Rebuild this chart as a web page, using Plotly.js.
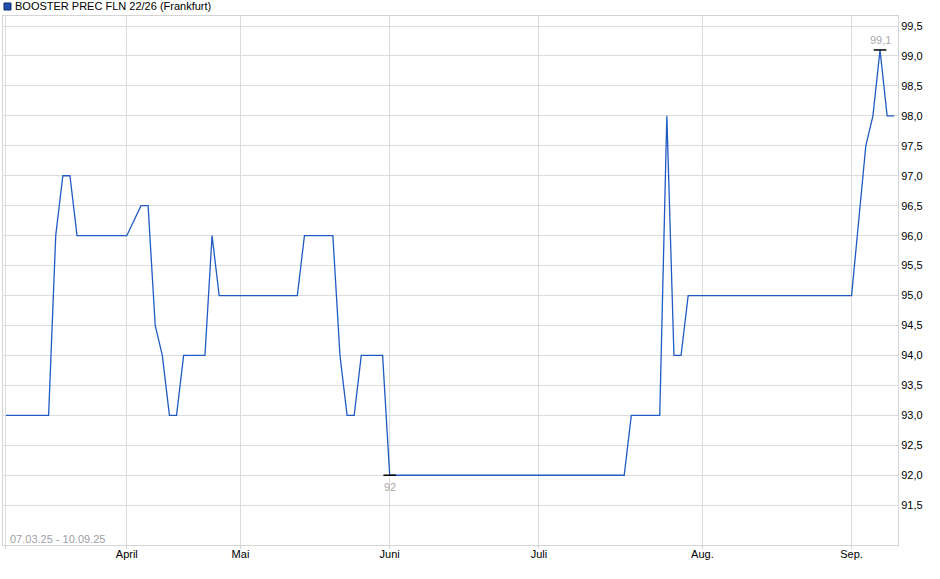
<!DOCTYPE html>
<html>
<head>
<meta charset="utf-8">
<script src="https://cdn.plot.ly/plotly-3.0.1.min.js"></script>
<style>
  html, body { margin: 0; padding: 0; background: #fff; }
  #chart { width: 940px; height: 579px; }
</style>
</head>
<body>
<div id="chart"></div>
<script>
// trading-day index of each turning point (07.03.25 = 0 ... 10.09.25 = 125)
const dayIdx = [0, 6, 7, 8, 9, 10, 17, 19, 20, 21, 22, 23, 24, 25, 28, 29, 30,
  41, 42, 46, 47, 48, 49, 50, 53, 54, 87, 88, 92, 93, 94, 95, 96,
  119, 121, 122, 123, 124, 125];
const price = [93, 93, 96, 97, 97, 96, 96, 96.5, 96.5, 94.5, 94, 93, 93, 94, 94, 96, 95,
  95, 96, 96, 94, 93, 93, 94, 94, 92, 92, 93, 93, 98, 94, 94, 95,
  95, 97.5, 98, 99.1, 98, 98];

const monthIdx = [0, 17, 33, 54, 75, 98, 119];
const monthText = ['', 'April', 'Mai', 'Juni', 'Juli', 'Aug.', 'Sep.'];
const yTicks = [91.5, 92, 92.5, 93, 93.5, 94, 94.5, 95, 95.5, 96, 96.5, 97, 97.5, 98, 98.5, 99, 99.5];

const seriesName = 'BOOSTER PREC FLN 22/26 (Frankfurt)';
const periodText = '07.03.25 - 10.09.25';

const font = 'Liberation Sans, Arial, sans-serif';
const gridColor = '#dcdcdc';

// lowest and highest point get a small black marker and a label
var minI = price.indexOf(Math.min(...price));
var maxI = price.indexOf(Math.max(...price));
function fmt(v) { return String(v).replace('.', ','); }

var trace1 = {
  x: dayIdx,
  y: price,
  mode: 'lines',
  line: { color: '#1f5bc2', width: 1.3 },
  name: seriesName,
  hoverinfo: 'y'
};

var extremes = {
  x: [dayIdx[minI], dayIdx[maxI]],
  y: [price[minI], price[maxI]],
  mode: 'markers',
  marker: { symbol: 'line-ew', size: 9, line: { color: '#000', width: 1.5 } },
  hoverinfo: 'skip'
};

var layout = {
  width: 940,
  height: 579,
  margin: { l: 3, r: 42, t: 16, b: 34, pad: 0 },
  paper_bgcolor: '#fff',
  plot_bgcolor: '#fff',
  separators: ',.',
  showlegend: false,
  font: { family: font, size: 11, color: '#000' },
  title: {
    text: seriesName,
    font: { family: font, size: 11, color: '#000' },
    x: 15 / 940, xanchor: 'left',
    y: 1 - 6.5 / 579, yanchor: 'middle'
  },
  xaxis: {
    range: [-0.42, 125.53],
    tickmode: 'array',
    tickvals: monthIdx,
    ticktext: monthText,
    showgrid: true,
    gridcolor: gridColor,
    zeroline: false,
    showline: true,
    linecolor: '#d4d4d4',
    mirror: true,
    ticks: 'outside',
    ticklen: 3,
    tickcolor: '#d4d4d4',
    ticklabelstandoff: -4,
    tickfont: { family: font, size: 11, color: '#000' }
  },
  yaxis: {
    side: 'right',
    range: [90.836, 99.667],
    tickmode: 'array',
    tickvals: yTicks,
    tickformat: '.1f',
    showgrid: true,
    gridcolor: gridColor,
    zeroline: false,
    showline: true,
    linecolor: '#d4d4d4',
    mirror: true,
    ticks: '',
    tickfont: { family: font, size: 11, color: '#000' }
  },
  shapes: [{
    type: 'rect', xref: 'paper', yref: 'paper',
    x0: 1 / 895, x1: 8 / 895, y0: (545 - 10) / 529, y1: (545 - 3) / 529,
    fillcolor: '#1f4fae', line: { color: '#0d2a66', width: 1 }
  }],
  annotations: [
    {
      text: periodText, xref: 'paper', yref: 'paper',
      x: 5 / 895, xanchor: 'left', y: 6 / 529, yanchor: 'middle',
      showarrow: false, font: { family: font, size: 11, color: '#a0a0a8' }
    },
    {
      text: fmt(price[minI]), x: dayIdx[minI], y: price[minI],
      yshift: -12, showarrow: false, font: { family: font, size: 11, color: '#a8a8a8' }
    },
    {
      text: fmt(price[maxI]), x: dayIdx[maxI], y: price[maxI],
      yshift: 10, showarrow: false, font: { family: font, size: 11, color: '#a8a8a8' }
    }
  ]
};

window.addEventListener('load', (event) => {
  Plotly.newPlot('chart', [trace1, extremes], layout, { displayModeBar: false, staticPlot: true });
});
</script>
</body>
</html>
